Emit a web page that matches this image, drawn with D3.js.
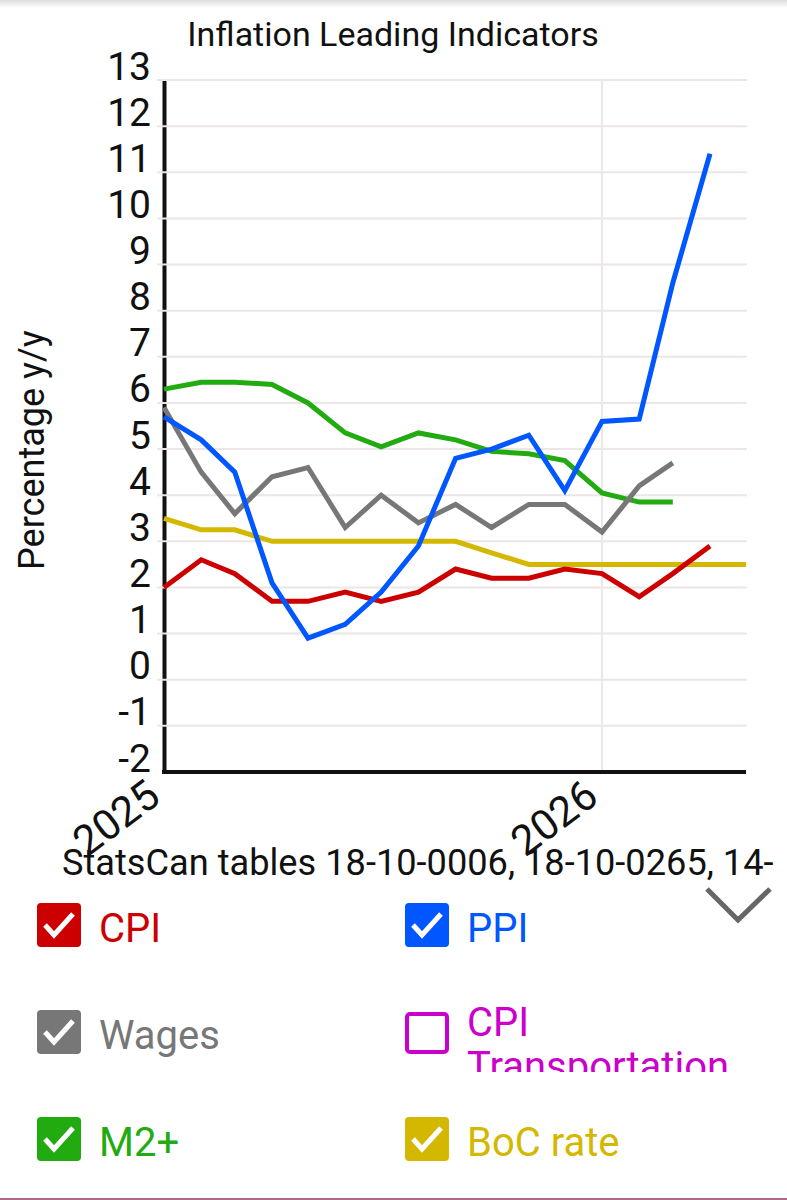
<!DOCTYPE html>
<html>
<head>
<meta charset="utf-8">
<script src="https://cdn.jsdelivr.net/npm/d3@7"></script>
<style>
  body { margin: 0; background: #fff; }
  svg { display: block; font-family: Roboto, "Noto Sans", sans-serif; }
</style>
</head>
<body>
<svg id="chart" width="787" height="1200"></svg>
<script>
// monthly observations, first of each month
const months = [
  '2025-01', '2025-02', '2025-03', '2025-04', '2025-05', '2025-06',
  '2025-07', '2025-08', '2025-09', '2025-10', '2025-11', '2025-12',
  '2026-01', '2026-02', '2026-03', '2026-04', '2026-05',
];

const cpi = [2.0, 2.6, 2.3, 1.7, 1.7, 1.9, 1.7, 1.9, 2.4, 2.2, 2.2, 2.4, 2.3, 1.8, 2.3, 2.9];
const ppi = [5.7, 5.2, 4.5, 2.1, 0.9, 1.2, 1.9, 2.9, 4.8, 5.0, 5.3, 4.1, 5.6, 5.65, 8.6, 11.4];
const wages = [5.9, 4.5, 3.6, 4.4, 4.6, 3.3, 4.0, 3.4, 3.8, 3.3, 3.8, 3.8, 3.2, 4.2, 4.7];
const m2plus = [6.3, 6.45, 6.45, 6.4, 6.0, 5.35, 5.05, 5.35, 5.2, 4.95, 4.9, 4.75, 4.05, 3.85, 3.85];
const bocRate = [3.5, 3.25, 3.25, 3.0, 3.0, 3.0, 3.0, 3.0, 3.0, 2.75, 2.5, 2.5, 2.5, 2.5, 2.5, 2.5, 2.5];

const yTicks = [-2, -1, 0, 1, 2, 3, 4, 5, 6, 7, 8, 9, 10, 11, 12, 13];
const xTickLabels = ['2025', '2026'];

const legendItems = [
  { name: 'CPI', color: '#cc0000', checked: true },
  { name: 'PPI', color: '#0057ff', checked: true },
  { name: 'Wages', color: '#777777', checked: true },
  { name: 'CPI Transportation', color: '#cc00cc', checked: false },
  { name: 'M2+', color: '#22aa11', checked: true },
  { name: 'BoC rate', color: '#d4b800', checked: true },
];

// drawing order, last on top
const seriesList = [
  { values: bocRate, color: '#d4b800' },
  { values: m2plus, color: '#22aa11' },
  { values: wages, color: '#777777' },
  { values: cpi, color: '#cc0000' },
  { values: ppi, color: '#0057ff' },
];

const parseMonth = d3.timeParse('%Y-%m');
const dates = months.map(parseMonth);

const svg = d3.select('#chart');

// faint shadow along the top edge
const defs = svg.append('defs');
const shade = defs.append('linearGradient')
  .attr('id', 'topShade')
  .attr('x1', 0).attr('x2', 0).attr('y1', 0).attr('y2', 1);
shade.append('stop').attr('offset', '0%').attr('stop-color', '#dcdcdc');
shade.append('stop').attr('offset', '100%').attr('stop-color', '#ffffff');
svg.append('rect')
  .attr('width', 787).attr('height', 8)
  .attr('fill', 'url(#topShade)');

const plot = { left: 164, right: 746, top: 80, bottom: 772 };

const x = d3.scaleTime()
  .domain([dates[0], dates[dates.length - 1]])
  .range([plot.left, plot.right]);

const y = d3.scaleLinear()
  .domain([d3.min(yTicks), d3.max(yTicks)])
  .range([plot.bottom, plot.top]);

svg.append('text')
  .attr('x', 393)
  .attr('y', 46)
  .attr('text-anchor', 'middle')
  .attr('font-size', 34)
  .attr('fill', '#111')
  .text('Inflation Leading Indicators');

svg.append('text')
  .attr('transform', 'translate(44,450) rotate(-90)')
  .attr('text-anchor', 'middle')
  .attr('font-size', 36)
  .attr('fill', '#111')
  .text('Percentage y/y');

// y axis: thick line, labels sit just above their grid line
const yAxis = svg.append('g')
  .attr('transform', `translate(${plot.left},0)`)
  .call(d3.axisLeft(y).tickValues(yTicks).tickFormat(String).tickSize(0).tickPadding(13));
yAxis.select('.domain')
  .attr('stroke', '#111')
  .attr('stroke-width', 4);
yAxis.selectAll('text')
  .attr('font-size', 39)
  .attr('fill', '#111')
  .attr('dy', -1)
  .attr('font-family', 'Roboto, sans-serif');

// grid drawn over the axis line, like the original
const yearTicks = xTickLabels.map((t) => d3.timeParse('%Y')(t));
svg.append('g')
  .selectAll('line')
  .data(yTicks.slice(1))
  .join('line')
  .attr('x1', plot.left - 7)
  .attr('x2', plot.right + 1)
  .attr('y1', (d) => y(d))
  .attr('y2', (d) => y(d))
  .attr('stroke', '#ece6e6')
  .attr('stroke-width', 2);
svg.append('g')
  .selectAll('line')
  .data(yearTicks.slice(1))
  .join('line')
  .attr('x1', (d) => x(d))
  .attr('x2', (d) => x(d))
  .attr('y1', plot.top)
  .attr('y2', plot.bottom)
  .attr('stroke', '#ece6e6')
  .attr('stroke-width', 2);

// x axis
const xAxis = svg.append('g')
  .attr('transform', `translate(0,${plot.bottom})`)
  .call(d3.axisBottom(x).tickValues(yearTicks).tickFormat(d3.timeFormat('%Y')).tickSize(0));
xAxis.select('.domain')
  .attr('d', `M${plot.left - 2},0H${plot.right}`)
  .attr('stroke', '#111')
  .attr('stroke-width', 4);
xAxis.selectAll('text')
  .attr('font-size', 42)
  .attr('fill', '#111')
  .attr('font-family', 'Roboto, sans-serif')
  .attr('text-anchor', 'end')
  .attr('y', 0)
  .attr('dy', 0)
  .attr('transform', 'translate(-2,29) rotate(-37)');

const line = d3.line()
  .x((d, i) => x(dates[i]))
  .y((d) => y(d));

seriesList.forEach((s) => {
  svg.append('path')
    .datum(s.values)
    .attr('d', line)
    .attr('fill', 'none')
    .attr('stroke', s.color)
    .attr('stroke-width', 5)
    .attr('stroke-linejoin', 'miter');
});

svg.append('text')
  .attr('x', 62)
  .attr('y', 875)
  .attr('font-size', 36.2)
  .attr('fill', '#111')
  .text('StatsCan tables 18-10-0006, 18-10-0265, 14-');

// collapse chevron
svg.append('path')
  .attr('d', 'M707,889L738,920L770,889')
  .attr('fill', 'none')
  .attr('stroke', '#666')
  .attr('stroke-width', 5);

// legend, two columns
const legend = svg.append('g');
legendItems.forEach((item, i) => {
  const col = i % 2;
  const row = Math.floor(i / 2);
  const g = legend.append('g')
    .attr('transform', `translate(${37 + col * 368},${903 + row * 107})`);
  if (item.checked) {
    g.append('rect')
      .attr('width', 44).attr('height', 44).attr('rx', 4)
      .attr('fill', item.color);
    g.append('path')
      .attr('d', 'M8,22L17,32L36,11')
      .attr('fill', 'none')
      .attr('stroke', '#fff')
      .attr('stroke-width', 5);
  } else {
    g.append('rect')
      .attr('x', 2).attr('y', 4).attr('width', 40).attr('height', 38).attr('rx', 3)
      .attr('fill', '#fff')
      .attr('stroke', item.color)
      .attr('stroke-width', 4);
  }
  const words = item.name === 'CPI Transportation' ? ['CPI', 'Transportation'] : [item.name];
  const label = g.append('text')
    .attr('x', 62)
    .attr('font-size', 40)
    .attr('fill', item.color);
  if (words.length === 1) {
    label.attr('y', 39).text(words[0]);
  } else {
    label.append('tspan').attr('x', 62).attr('y', 26).text(words[0]);
    label.append('tspan').attr('x', 62).attr('y', 70).text(words[1]);
    // bottom of the second line is cut off
    defs.append('clipPath').attr('id', 'cutLabel')
      .append('rect').attr('x', 0).attr('y', -20).attr('width', 400).attr('height', 82);
    label.attr('clip-path', 'url(#cutLabel)');
  }
});

svg.append('line')
  .attr('x1', 0).attr('x2', 787)
  .attr('y1', 1199).attr('y2', 1199)
  .attr('stroke', '#b06a88')
  .attr('stroke-width', 2);
</script>
</body>
</html>
